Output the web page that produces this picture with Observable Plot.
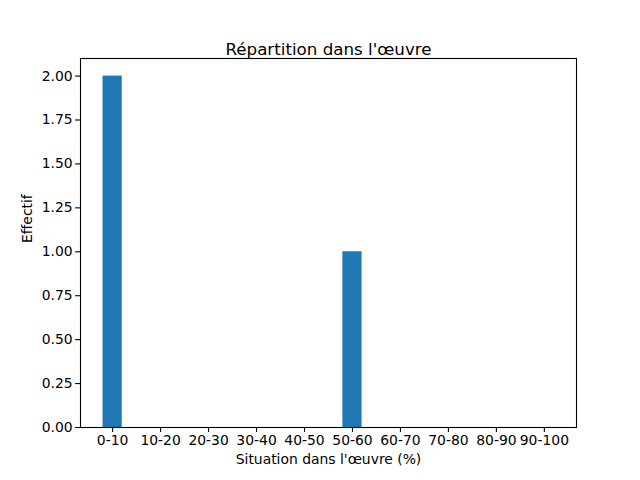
<!DOCTYPE html>
<html><head><meta charset="utf-8">
<script src="https://cdn.jsdelivr.net/npm/d3@7"></script>
<script src="https://cdn.jsdelivr.net/npm/@observablehq/plot@0.6"></script>
<style>body{margin:0;background:#fff}</style>
</head><body><div id="chart"></div>
<script>
const categories = ["0-10","10-20","20-30","30-40","40-50","50-60","60-70","70-80","80-90","90-100"];
const counts = [2,0,0,0,0,1,0,0,0,0];
const yTicks = [0,0.25,0.5,0.75,1,1.25,1.5,1.75,2];
const title = "Répartition dans l'œuvre";
const xLabel = "Situation dans l'œuvre (%)";
const yLabel = "Effectif";

const data = categories.map((c, i) => ({i, c, n: counts[i]}));
const half = 0.2;

const chart = Plot.plot({
  width: 640, height: 480,
  marginLeft: 80, marginRight: 64, marginTop: 58, marginBottom: 53,
  style: {fontFamily: "DejaVu Sans", fontSize: "13.9px", color: "black", background: "white"},
  x: {domain: [-0.67, 9.67]},
  y: {domain: [0, 2.1]},
  marks: [
    Plot.rectY(data, {x1: d => d.i - half, x2: d => d.i + half, y1: 0, y2: "n", fill: "#1f77b4"}),
    Plot.frame({stroke: "black", strokeWidth: 1.1}),
    Plot.axisX({ticks: categories.map((c, i) => i), tickFormat: i => categories[i], tickSize: 4.9, tickPadding: 3, strokeWidth: 1.1, fontSize: 13.9, label: null}),
    Plot.axisY({ticks: yTicks, tickFormat: d => d.toFixed(2), tickSize: 4.9, tickPadding: 3, strokeWidth: 1.1, fontSize: 13.9, label: null}),
    Plot.text([title], {frameAnchor: "top", dy: -15, fontSize: 16.7, text: d => d}),
    Plot.text([xLabel], {frameAnchor: "bottom", dy: 36, fontSize: 13.9, text: d => d}),
    Plot.text([yLabel], {frameAnchor: "left", dx: -53, rotate: -90, fontSize: 13.9, text: d => d})
  ]
});
document.getElementById("chart").appendChild(chart);
</script>
</body></html>
